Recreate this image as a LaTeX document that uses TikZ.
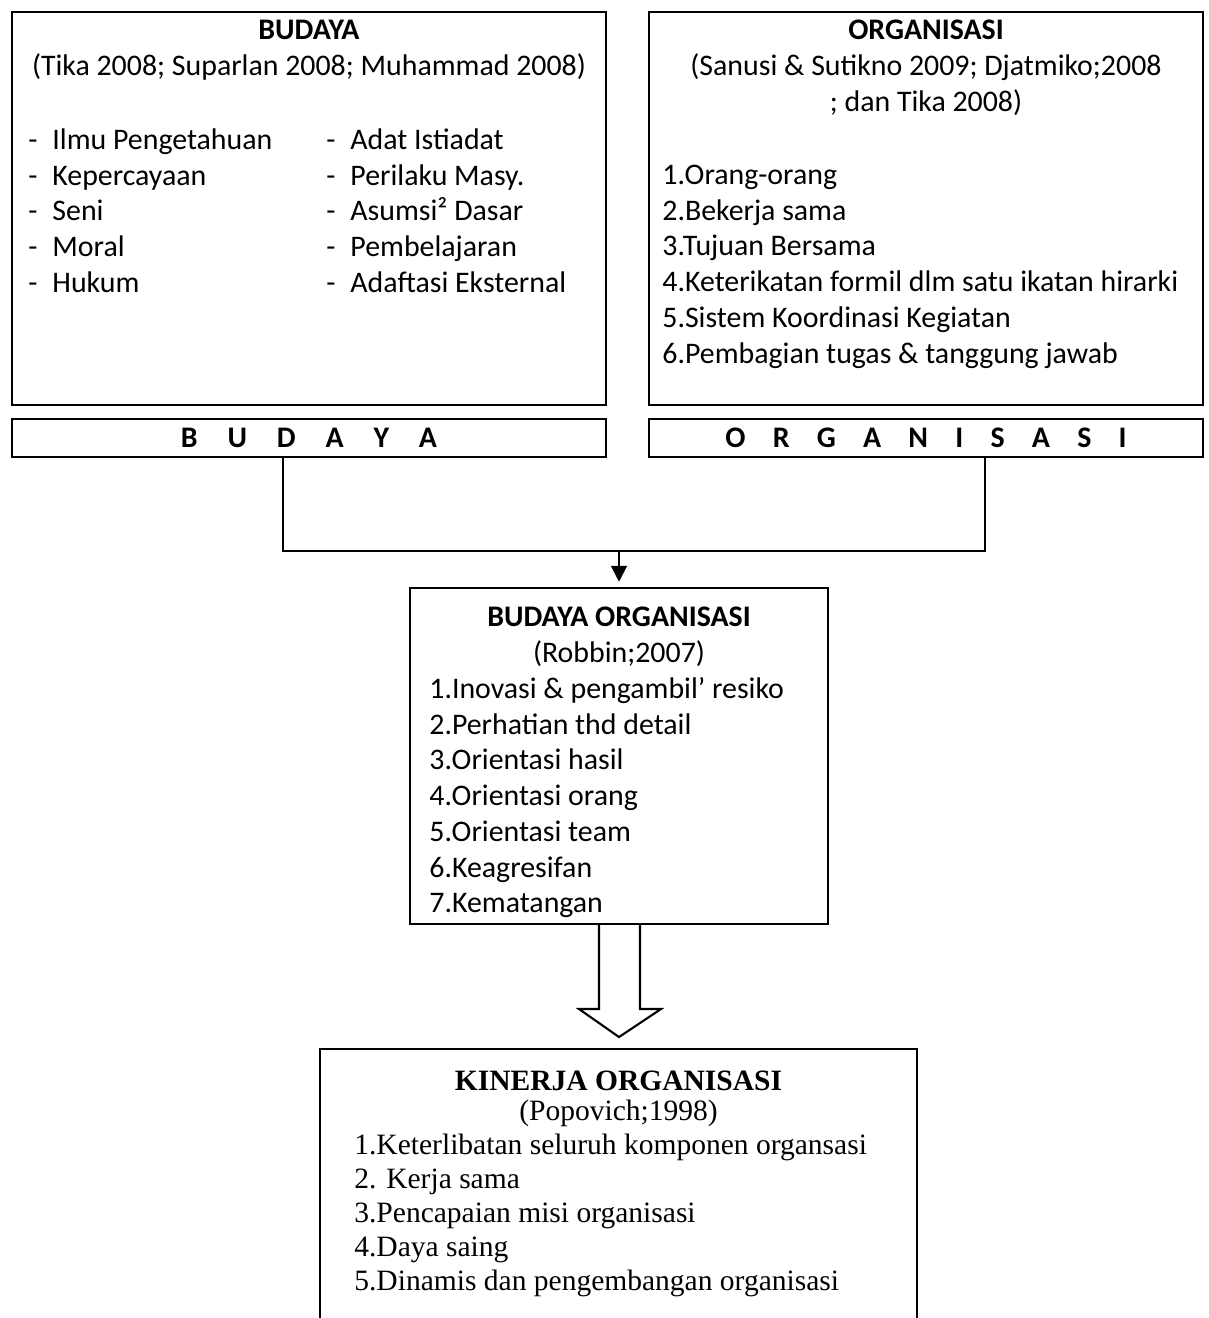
\documentclass[tikz,border=0pt]{standalone}
\usepackage{fontspec}
\setmainfont{Carlito}
\newfontfamily\timesfont{Liberation Serif}
\usetikzlibrary{arrows.meta}

\newcommand{\bgap}{\hspace{17pt}}
\newcommand{\ogap}{\hspace{15.5pt}}

\begin{document}
\begin{tikzpicture}[
      x=0.02cm, y=-0.02cm,
      frame/.style={rectangle, draw, line width=1.2pt, inner sep=0pt},
      txt/.style={inner sep=0pt, font=\fontsize{17}{20.35}\selectfont},
      serif/.style={inner sep=0pt, font=\timesfont\fontsize{16.8}{19.4}\selectfont},
      bar/.style={frame, minimum height=0.76cm, font=\bfseries\fontsize{17}{20.35}\selectfont},
      link/.style={line width=1.2pt},
      arrow/.style={link, -{Triangle[width=9pt,length=9pt]}, shorten >=3pt}
    ]
    \useasboundingbox (0,0) rectangle (1209,1318);

    % frames
    \node[frame, minimum width=11.88cm, minimum height=7.86cm] (budBox) at (309,208.5) {};
    \node[frame, minimum width=11.08cm, minimum height=7.86cm] (orgBox) at (926,208.5) {};
    \node[bar, minimum width=11.88cm] (budBar) at (309,438) {B\bgap U\bgap D\bgap A\bgap Y\bgap A};
    \node[bar, minimum width=11.08cm] (orgBar) at (926,438) {O\ogap R\ogap G\ogap A\ogap N\ogap I\ogap S\ogap A\ogap S\ogap I};
    \node[frame, minimum width=8.36cm, minimum height=6.72cm] (boBox) at (619,756) {};
    \node[frame, minimum width=11.94cm, minimum height=5.62cm] (kinBox) at (618.5,1189.5) {};

    % budaya
    \node[txt, anchor=north] (budHead) at (309,14.5) {\begin{tabular}{@{}c@{}}
      \textbf{BUDAYA}\\
      (Tika 2008; Suparlan 2008; Muhammad 2008)
    \end{tabular}};
    \node[txt, anchor=north west] (budListL) at (28,124) {\begin{tabular}{@{}l@{\hspace{8.5pt}}l@{}}
      - & Ilmu Pengetahuan\\
      - & Kepercayaan\\
      - & Seni\\
      - & Moral\\
      - & Hukum
    \end{tabular}};
    \node[txt, anchor=north west] (budListR) at (326,124) {\begin{tabular}{@{}l@{\hspace{8.5pt}}l@{}}
      - & Adat Istiadat\\
      - & Perilaku Masy.\\
      - & Asumsi² Dasar\\
      - & Pembelajaran\\
      - & Adaftasi Eksternal
    \end{tabular}};

    % organisasi
    \node[txt, anchor=north] (orgHead) at (926,14.5) {\begin{tabular}{@{}c@{}}
      \textbf{ORGANISASI}\\
      (Sanusi \& Sutikno 2009; Djatmiko;2008\\
      ; dan Tika 2008)
    \end{tabular}};
    \node[txt, anchor=north west] (orgList) at (662,159) {\begin{tabular}{@{}l@{}}
      1.Orang-orang\\
      2.Bekerja sama\\
      3.Tujuan Bersama\\
      4.Keterikatan formil dlm satu ikatan hirarki\\
      5.Sistem Koordinasi Kegiatan\\
      6.Pembagian tugas \& tanggung jawab
    \end{tabular}};

    % budaya organisasi
    \node[txt, anchor=north] (boHead) at (619,601.5) {\begin{tabular}{@{}c@{}}
      \textbf{BUDAYA ORGANISASI}\\
      (Robbin;2007)
    \end{tabular}};
    \node[txt, anchor=north west] (boList) at (429,673) {\begin{tabular}{@{}l@{}}
      1.Inovasi \& pengambil’ resiko\\
      2.Perhatian thd detail\\
      3.Orientasi hasil\\
      4.Orientasi orang\\
      5.Orientasi team\\
      6.Keagresifan\\
      7.Kematangan
    \end{tabular}};

    % kinerja organisasi
    \node[serif, anchor=north] (kinHead) at (618.5,1066) {\begin{tabular}{@{}c@{}}
      \textbf{KINERJA ORGANISASI}\\[-2pt]
      (Popovich;1998)
    \end{tabular}};
    \node[serif, anchor=north west] (kinList) at (354,1130) {\begin{tabular}{@{}l@{}}
      1.Keterlibatan seluruh komponen organsasi\\
      2. Kerja sama\\
      3.Pencapaian misi organisasi\\
      4.Daya saing\\
      5.Dinamis dan pengembangan organisasi
    \end{tabular}};

    % connectors
    \coordinate (joinL) at (283,551);
    \coordinate (joinR) at (985,551);
    \draw[link] (budBar.south -| joinL) -- (joinL) -- (joinR) -- (orgBar.south -| joinR);
    \draw[arrow] (boBox.north |- joinL) -- (boBox.north);
    \draw[link, line join=miter] ([xshift=-0.4cm]boBox.south) -- ++(0,84) -- ++(-20,0)
      -- ++(40,28) -- ++(42,-28) -- ++(-21,0) -- ++(0,-84);
  \end{tikzpicture}
\end{document}
